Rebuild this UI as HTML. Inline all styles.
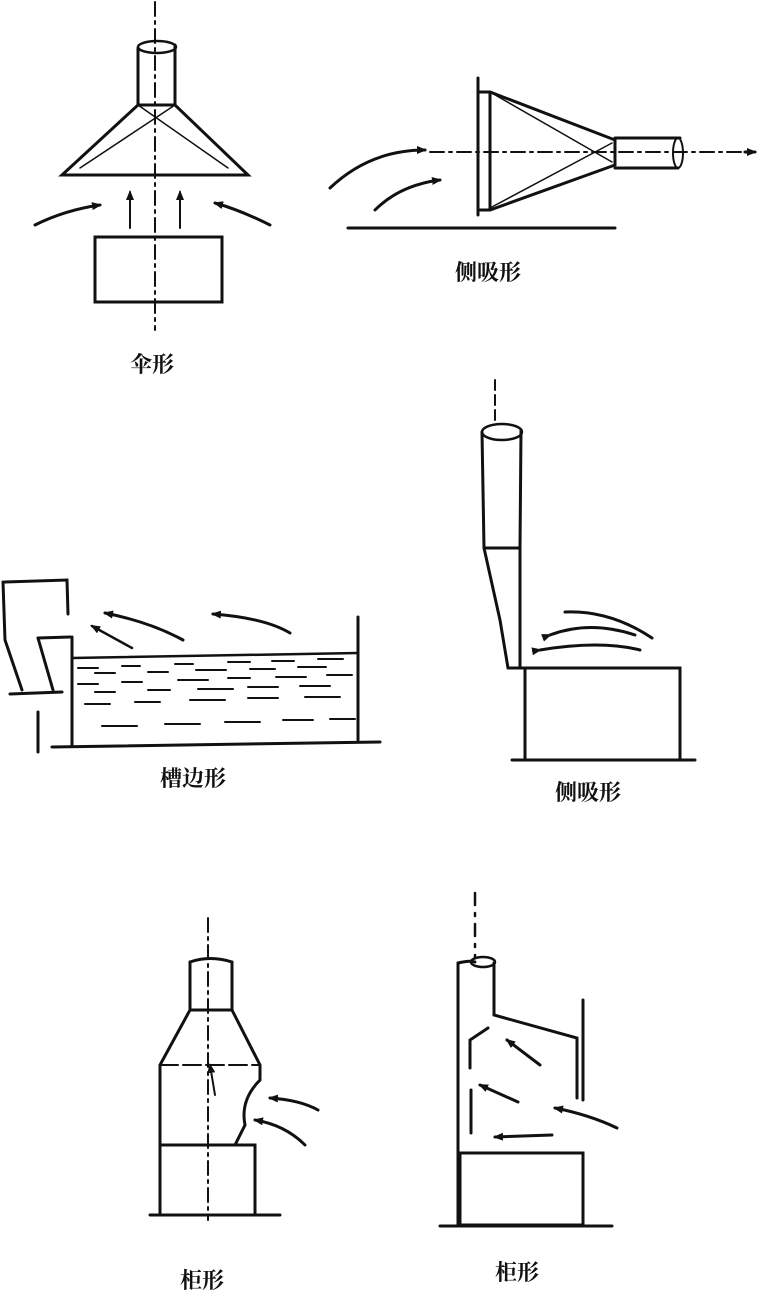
<!DOCTYPE html>
<html><head><meta charset="utf-8"><style>
html,body{margin:0;padding:0;background:#fff;}
svg{display:block}
text{font-family:"Liberation Serif","Noto Serif CJK SC","Noto Sans CJK SC",serif;font-size:22px;font-weight:bold;fill:#111}
</style></head><body>
<svg width="782" height="1292" viewBox="0 0 782 1292" xmlns="http://www.w3.org/2000/svg">
<defs><marker id="a" markerWidth="10" markerHeight="8" refX="8" refY="4" orient="auto" markerUnits="userSpaceOnUse"><path d="M0,0 L10,4 L0,8 z" fill="#111"/></marker></defs>
<g stroke="#111" stroke-width="3" fill="none" stroke-linecap="round">
<!-- Umbrella -->
<line x1="155" y1="2" x2="155" y2="330" stroke-width="2" stroke-dasharray="14,5,3,5"/>
<line x1="138" y1="48" x2="138" y2="105"/><line x1="175" y1="45" x2="175" y2="105"/>
<ellipse cx="157" cy="47" rx="19" ry="6" stroke-width="2.5"/>
<path d="M138,105 L62,175 L248,175 L175,105 Z"/>
<line x1="138" y1="105" x2="228" y2="168" stroke-width="1.5"/><line x1="175" y1="105" x2="80" y2="168" stroke-width="1.5"/>
<rect x="95" y="237" width="127" height="65"/>
<line x1="130" y1="228" x2="130" y2="192" marker-end="url(#a)" stroke-width="2"/>
<line x1="180" y1="228" x2="180" y2="192" marker-end="url(#a)" stroke-width="2"/>
<path d="M35,225 Q65,210 100,205" marker-end="url(#a)"/>
<path d="M270,225 Q240,210 215,203" marker-end="url(#a)"/>
<!-- side hood -->
<line x1="348" y1="228" x2="615" y2="228"/>
<line x1="478" y1="78" x2="478" y2="215"/>
<path d="M478,92 L490,92 L615,140 L615,165 L490,210 L478,210"/>
<line x1="490" y1="92" x2="490" y2="210"/>
<line x1="490" y1="92" x2="612" y2="162" stroke-width="1.5"/><line x1="490" y1="208" x2="612" y2="143" stroke-width="1.5"/>
<path d="M615,138 L680,138 M615,168 L678,168"/><ellipse cx="678" cy="153" rx="5" ry="15" stroke-width="2"/>
<line x1="430" y1="152" x2="752" y2="152" stroke-width="2" stroke-dasharray="14,5,3,5"/>
<path d="M745,152 L755,152" marker-end="url(#a)"/>
<path d="M330,188 Q370,150 425,150" marker-end="url(#a)"/>
<path d="M375,210 Q400,185 440,180" marker-end="url(#a)"/>
<!-- tank -->
<line x1="52" y1="747" x2="380" y2="742"/>
<line x1="72" y1="637" x2="72" y2="745"/><line x1="358" y1="617" x2="358" y2="740"/>
<line x1="72" y1="658" x2="358" y2="653" stroke-width="2.5"/>
<g stroke-width="2">
<path d="M78,668h20M122,666h18M175,664h18M228,662h22M272,661h22M318,659h25"/>
<path d="M95,673h20M148,672h20M196,670h30M250,669h25M298,667h28"/>
<path d="M78,684h20M122,682h20M178,680h30M228,678h22M276,677h30M327,675h25"/>
<path d="M95,692h20M148,690h22M198,689h35M248,687h30M300,686h30"/>
<path d="M85,704h25M135,702h25M190,700h35M248,698h30M305,697h35"/>
<path d="M102,726h35M165,724h35M225,722h35M283,720h30M330,719h25"/>
</g>
<path d="M5,582 L67,580 L68,614"/>
<path d="M3,582 L5,640 L22,690"/>
<path d="M38,638 L70,637"/>
<path d="M38,638 L53,690"/>
<path d="M10,694 L62,692"/>
<line x1="38" y1="712" x2="38" y2="752" stroke-width="3"/>
<path d="M183,640 Q150,622 105,613" marker-end="url(#a)"/>
<path d="M290,633 Q265,618 213,614" marker-end="url(#a)"/>
<line x1="132" y1="648" x2="92" y2="626" marker-end="url(#a)" stroke-width="2.5"/>
<!-- tall side hood -->
<line x1="495" y1="380" x2="495" y2="425" stroke-width="2" stroke-dasharray="10,5"/>
<ellipse cx="502" cy="432" rx="20" ry="8" stroke-width="2.5"/>
<path d="M482,432 L484,548 L500,620 L508,668 M521,430 L520,548 L520,668"/>
<line x1="484" y1="548" x2="520" y2="548"/>
<path d="M508,668 L680,668 L680,760 M525,668 L525,760"/>
<line x1="512" y1="760" x2="695" y2="760"/>
<path d="M540,650 Q600,640 640,650" marker-start="url(#a)"/>
<path d="M550,635 Q590,620 635,635" marker-start="url(#a)"/>
<path d="M565,612 Q610,610 652,638"/>
<!-- bottom-left cabinet -->
<line x1="208" y1="918" x2="208" y2="1220" stroke-width="2" stroke-dasharray="14,5,3,5"/>
<path d="M190,962 L190,1010 L160,1065 L160,1215 M232,962 L232,1010 L260,1065 L260,1080 Q240,1100 245,1125 L235,1145"/>
<path d="M190,962 Q210,955 232,962"/>
<line x1="190" y1="1010" x2="232" y2="1010"/>
<line x1="160" y1="1065" x2="260" y2="1065" stroke-width="2" stroke-dasharray="18,5"/>
<rect x="160" y="1145" width="95" height="70"/>
<line x1="150" y1="1215" x2="280" y2="1215"/>
<path d="M318,1110 Q300,1100 270,1098" marker-end="url(#a)"/>
<path d="M305,1145 Q285,1125 255,1120" marker-end="url(#a)"/>
<line x1="215" y1="1095" x2="210" y2="1065" marker-end="url(#a)" stroke-width="2"/>
<!-- bottom-right cabinet -->
<line x1="475" y1="893" x2="475" y2="958" stroke-width="2.5" stroke-dasharray="12,8,3,8"/>
<path d="M458,1225 L458,963 Q470,960 475,962 M494,963 L494,1015 L577,1038 L577,1098"/>
<ellipse cx="483" cy="962" rx="12" ry="5" stroke-width="2.5"/>
<line x1="583" y1="1000" x2="583" y2="1100"/>
<path d="M470,1068 L470,1040 L488,1028"/>
<line x1="471" y1="1090" x2="471" y2="1133"/>
<rect x="460" y="1153" width="123" height="72"/>
<line x1="440" y1="1226" x2="612" y2="1226"/>
<line x1="540" y1="1065" x2="507" y2="1040" marker-end="url(#a)"/>
<line x1="518" y1="1102" x2="480" y2="1085" marker-end="url(#a)"/>
<path d="M617,1128 Q590,1115 555,1108" marker-end="url(#a)"/>
<line x1="552" y1="1135" x2="495" y2="1137" marker-end="url(#a)"/>
</g>
<text x="130" y="372">伞形</text>
<text x="455" y="280">侧吸形</text>
<text x="160" y="786">槽边形</text>
<text x="555" y="800">侧吸形</text>
<text x="180" y="1288">柜形</text>
<text x="495" y="1280">柜形</text>
</svg>
</body></html>
